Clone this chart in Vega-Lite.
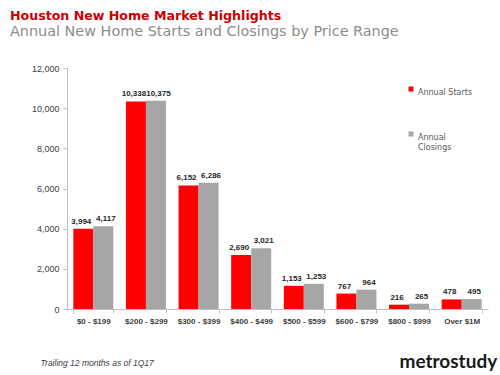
{
  "$schema": "https://vega.github.io/schema/vega-lite/v6.json",
  "width": 421,
  "height": 241,
  "autosize": {"type": "none"},
  "padding": {"left": 67, "top": 68, "right": 12, "bottom": 66},
  "background": "white",
  "title": {
    "text": "Houston New Home Market Highlights",
    "subtitle": "Annual New Home Starts and Closings by Price Range",
    "anchor": "start",
    "frame": "group",
    "dx": -57,
    "offset": 26,
    "font": "DejaVu Sans",
    "fontSize": 12.6,
    "fontWeight": "bold",
    "color": "#CC0000",
    "subtitleFont": "DejaVu Sans",
    "subtitleFontSize": 14.4,
    "subtitleColor": "#8C8C8C",
    "subtitlePadding": 2
  },
  "config": {"view": {"stroke": null}},
  "data": {
    "values": [
      {"range": "$0 - $199", "series": "Annual Starts", "value": 3994},
      {"range": "$0 - $199", "series": "Annual Closings", "value": 4117},
      {"range": "$200 - $299", "series": "Annual Starts", "value": 10338},
      {"range": "$200 - $299", "series": "Annual Closings", "value": 10375},
      {"range": "$300 - $399", "series": "Annual Starts", "value": 6152},
      {"range": "$300 - $399", "series": "Annual Closings", "value": 6286},
      {"range": "$400 - $499", "series": "Annual Starts", "value": 2690},
      {"range": "$400 - $499", "series": "Annual Closings", "value": 3021},
      {"range": "$500 - $599", "series": "Annual Starts", "value": 1153},
      {"range": "$500 - $599", "series": "Annual Closings", "value": 1253},
      {"range": "$600 - $799", "series": "Annual Starts", "value": 767},
      {"range": "$600 - $799", "series": "Annual Closings", "value": 964},
      {"range": "$800 - $999", "series": "Annual Starts", "value": 216},
      {"range": "$800 - $999", "series": "Annual Closings", "value": 265},
      {"range": "Over $1M", "series": "Annual Starts", "value": 478},
      {"range": "Over $1M", "series": "Annual Closings", "value": 495}
    ]
  },
  "encoding": {
    "x": {
      "field": "range",
      "type": "nominal",
      "sort": ["$0 - $199", "$200 - $299", "$300 - $399", "$400 - $499", "$500 - $599", "$600 - $799", "$800 - $999", "Over $1M"],
      "scale": {"paddingInner": 0.24, "paddingOuter": 0.12},
      "axis": {
        "title": "Trailing 12 months as of 1Q17",
        "titleFont": "Liberation Sans",
        "titleFontStyle": "italic",
        "titleFontWeight": "normal",
        "titleFontSize": 8.5,
        "titleColor": "#404040",
        "titleAnchor": "start",
        "titleAlign": "left",
        "titleBaseline": "alphabetic",
        "titleX": -27,
        "titleY": 56,
        "labelAngle": 0,
        "labelFont": "Liberation Sans",
        "labelFontSize": 8,
        "labelFontWeight": "bold",
        "labelColor": "#404040",
        "labelPadding": 4,
        "domainColor": "#BFBFBF",
        "tickColor": "#BFBFBF",
        "tickBand": "extent",
        "tickSize": 4
      }
    },
    "xOffset": {
      "field": "series",
      "sort": ["Annual Starts", "Annual Closings"],
      "scale": {"paddingInner": 0, "paddingOuter": 0}
    },
    "y": {
      "field": "value",
      "type": "quantitative",
      "scale": {"domain": [0, 12000], "nice": false},
      "axis": {
        "title": "metrostudy",
        "titleAngle": 0,
        "titleAlign": "left",
        "titleBaseline": "alphabetic",
        "titleX": 332,
        "titleY": 299,
        "titleFont": "Lato",
        "titleFontSize": 19,
        "titleFontWeight": "bold",
        "titleColor": "#1A1A1A",
        "values": [0, 2000, 4000, 6000, 8000, 10000, 12000],
        "format": ",.0f",
        "grid": false,
        "labelFont": "Liberation Sans",
        "labelFontSize": 9,
        "labelColor": "#404040",
        "labelPadding": 4,
        "domainColor": "#BFBFBF",
        "tickColor": "#BFBFBF",
        "tickSize": 4
      }
    }
  },
  "layer": [
    {
      "mark": {"type": "bar"},
      "encoding": {
        "color": {
          "field": "series",
          "type": "nominal",
          "sort": ["Annual Starts", "Annual Closings"],
          "scale": {"domain": ["Annual Starts", "Annual Closings"], "range": ["#FF0000", "#A6A6A6"]},
          "legend": {
            "title": null,
            "orient": "none",
            "legendX": 340,
            "legendY": 17,
            "symbolType": "square",
            "symbolSize": 25,
            "symbolStrokeWidth": 0,
            "labelFont": "DejaVu Sans",
            "labelFontSize": 8,
            "labelColor": "#595959",
            "labelBaseline": "top",
            "labelOffset": 3,
            "labelExpr": "datum.label == 'Annual Closings' ? ['Annual', 'Closings'] : datum.label",
            "rowPadding": 33
          }
        }
      }
    },
    {
      "transform": [{"filter": "datum.series == 'Annual Starts'"}],
      "mark": {
        "type": "text",
        "baseline": "bottom",
        "dy": -3,
        "dx": -2,
        "font": "Liberation Sans",
        "fontSize": 8,
        "fontWeight": "bold",
        "color": "#262626"
      },
      "encoding": {
        "text": {"field": "value", "type": "quantitative", "format": ",.0f"}
      }
    },
    {
      "transform": [{"filter": "datum.series == 'Annual Closings'"}],
      "mark": {
        "type": "text",
        "baseline": "bottom",
        "dy": -3,
        "dx": 2.5,
        "font": "Liberation Sans",
        "fontSize": 8,
        "fontWeight": "bold",
        "color": "#262626"
      },
      "encoding": {
        "text": {"field": "value", "type": "quantitative", "format": ",.0f"}
      }
    }
  ]
}
